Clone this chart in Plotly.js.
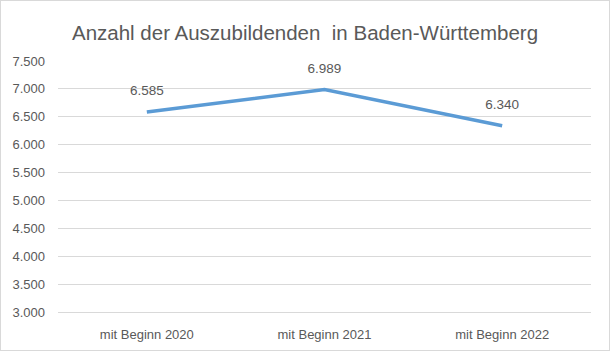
<!DOCTYPE html>
<html>
<head>
<meta charset="utf-8">
<script src="https://cdn.plot.ly/plotly-3.0.1.min.js"></script>
<style>
html, body { margin: 0; padding: 0; background: #fff; }
#wrap { position: relative; width: 610px; height: 351px; }
#chart { width: 610px; height: 351px; }
#frame { position: absolute; left: 0; top: 0; width: 608px; height: 349px; border: 1px solid #d9d9d9; pointer-events: none; }
</style>
</head>
<body>
<div id="wrap">
<div id="chart"></div>
<div id="frame"></div>
</div>
<script>
const categories = ["mit Beginn 2020", "mit Beginn 2021", "mit Beginn 2022"];
const values = [6585, 6989, 6340];
const chartTitle = "Anzahl der Auszubildenden  in Baden-Württemberg";

const fontFamily = "Liberation Sans, Arial, sans-serif";
const grey = "#595959";

const trace = {
  x: categories,
  y: values,
  type: "scatter",
  mode: "lines+markers+text",
  line: { color: "#5b9bd5", width: 3.5 },
  marker: { size: 20, color: "rgba(0,0,0,0)" },
  texttemplate: "%{y:,d}",
  textposition: "top center",
  textfont: { family: fontFamily, size: 13.5, color: grey },
  hoverinfo: "skip",
  cliponaxis: false
};

const layout = {
  width: 610,
  height: 351,
  margin: { l: 58, r: 19, t: 61, b: 39 },
  paper_bgcolor: "#ffffff",
  plot_bgcolor: "#ffffff",
  separators: ",.",
  showlegend: false,
  title: {
    text: chartTitle,
    font: { family: fontFamily, size: 20.5, color: grey },
    x: 0.5, xanchor: "center",
    y: 1 - 33 / 351, yanchor: "middle"
  },
  xaxis: {
    type: "category",
    range: [-0.5, 2.5],
    showgrid: false,
    zeroline: false,
    showline: true,
    linecolor: "#d9d9d9",
    linewidth: 1,
    ticks: "",
    ticklabelstandoff: 10,
    tickfont: { family: fontFamily, size: 13, color: grey }
  },
  yaxis: {
    range: [3000, 7500],
    dtick: 500,
    tick0: 3000,
    tickformat: ",d",
    showgrid: true,
    gridcolor: "#d9d9d9",
    gridwidth: 1,
    zeroline: false,
    showline: false,
    ticks: "",
    ticklabelstandoff: 12,
    tickfont: { family: fontFamily, size: 13, color: grey }
  }
};

Plotly.newPlot("chart", [trace], layout, { staticPlot: true, displayModeBar: false });
</script>
</body>
</html>
